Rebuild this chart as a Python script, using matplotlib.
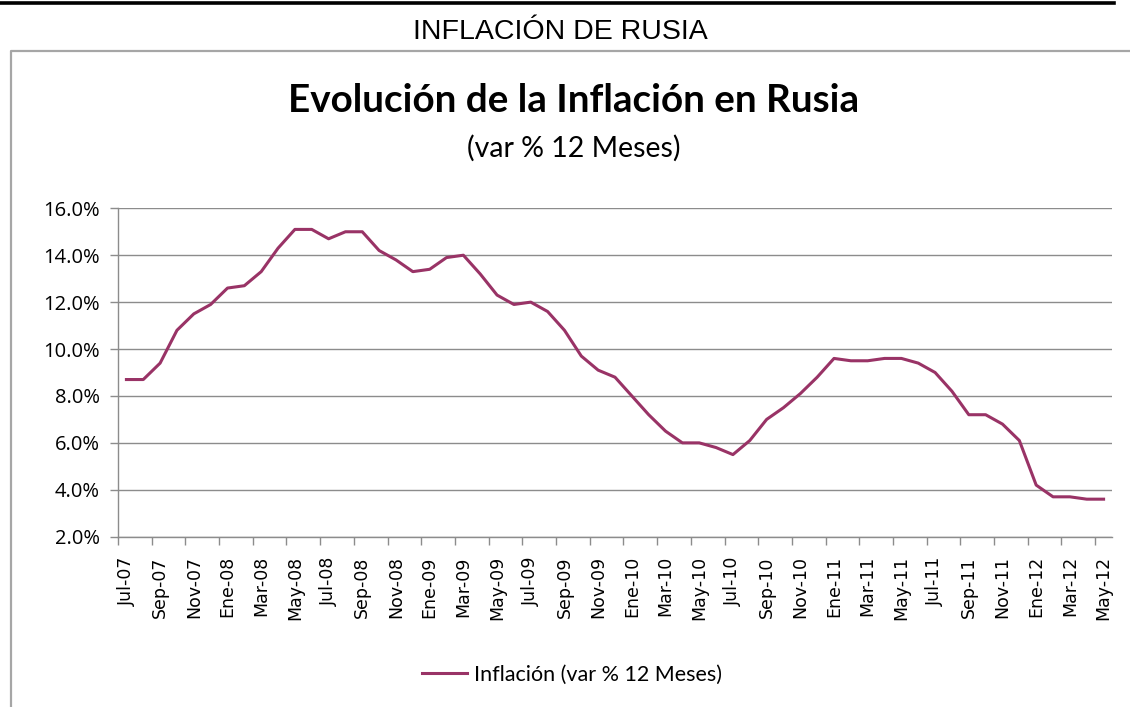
import numpy as np
import matplotlib
matplotlib.use('Agg')
import matplotlib.pyplot as plt
from matplotlib.lines import Line2D

# monthly 12-month CPI change, Jul-07 .. May-12
MONTHS = ['Jul-07', 'Ago-07', 'Sep-07', 'Oct-07', 'Nov-07', 'Dic-07',
          'Ene-08', 'Feb-08', 'Mar-08', 'Abr-08', 'May-08', 'Jun-08',
          'Jul-08', 'Ago-08', 'Sep-08', 'Oct-08', 'Nov-08', 'Dic-08',
          'Ene-09', 'Feb-09', 'Mar-09', 'Abr-09', 'May-09', 'Jun-09',
          'Jul-09', 'Ago-09', 'Sep-09', 'Oct-09', 'Nov-09', 'Dic-09',
          'Ene-10', 'Feb-10', 'Mar-10', 'Abr-10', 'May-10', 'Jun-10',
          'Jul-10', 'Ago-10', 'Sep-10', 'Oct-10', 'Nov-10', 'Dic-10',
          'Ene-11', 'Feb-11', 'Mar-11', 'Abr-11', 'May-11', 'Jun-11',
          'Jul-11', 'Ago-11', 'Sep-11', 'Oct-11', 'Nov-11', 'Dic-11',
          'Ene-12', 'Feb-12', 'Mar-12', 'Abr-12', 'May-12']
INFLATION = [8.7, 8.7, 9.4, 10.8, 11.5, 11.9,
             12.6, 12.7, 13.3, 14.3, 15.1, 15.1,
             14.7, 15.0, 15.0, 14.2, 13.8, 13.3,
             13.4, 13.9, 14.0, 13.2, 12.3, 11.9,
             12.0, 11.6, 10.8, 9.7, 9.1, 8.8,
             8.0, 7.2, 6.5, 6.0, 6.0, 5.8,
             5.5, 6.1, 7.0, 7.5, 8.1, 8.8,
             9.6, 9.5, 9.5, 9.6, 9.6, 9.4,
             9.0, 8.2, 7.2, 7.2, 6.8, 6.1,
             4.2, 3.7, 3.7, 3.6, 3.6]
Y_TICKS = [2, 4, 6, 8, 10, 12, 14, 16]

LINE_COLOR = '#993366'
GRID_COLOR = '#8c8c8c'
FONT = ['Lato', 'DejaVu Sans']

W, H = 1130, 707
fig = plt.figure(figsize=(W / 100, H / 100), dpi=100)

# frame around the chart object and black rule at top
fig.add_artist(Line2D([0, 1114 / W], [1 - 2.5 / H] * 2, color='black', lw=2.6, transform=fig.transFigure))
fig.add_artist(Line2D([10.5 / W, 10.5 / W, 1], [0, 1 - 51 / H, 1 - 51 / H], color='#a6a6a6', lw=1.6,
                      transform=fig.transFigure))

fig.text(560 / W, 1 - 32 / H, 'INFLACIÓN DE RUSIA', ha='center', va='center', fontsize=20.5,
         family=['Liberation Sans', 'DejaVu Sans'])
fig.text(574 / W, 1 - 101 / H, 'Evolución de la Inflación en Rusia', ha='center', va='center',
         fontsize=27.8, fontweight='bold', family=FONT)
fig.text(574 / W, 1 - 148 / H, '(var % 12 Meses)', ha='center', va='center', fontsize=20.5, family=FONT)

ax = fig.add_axes([118 / W, 1 - 536.7 / H, (1112 - 118) / W, (536.7 - 208.3) / H])
x = np.arange(len(MONTHS))
line, = ax.plot(x, INFLATION, color=LINE_COLOR, lw=2.2, solid_joinstyle='round')

ax.set_xlim(-0.5, len(MONTHS) - 0.5)
ax.set_ylim(2, 16)
ax.set_yticks(Y_TICKS)
ax.set_yticklabels([f'{v:.1f}%' for v in Y_TICKS], fontsize=14.5, family=['Open Sans', 'DejaVu Sans'])
ax.yaxis.grid(True, color=GRID_COLOR, lw=1.0)
ax.set_axisbelow(True)

# tick marks between categories, labels every second month
ax.set_xticks(np.arange(-0.5, len(MONTHS) - 1, 2))
ax.set_xticklabels([])
ax.set_xticks(x[::2], minor=True)
ax.set_xticklabels(MONTHS[::2], minor=True, rotation=90, fontsize=12.5, family='DejaVu Sans')
ax.tick_params(axis='x', which='minor', length=0, pad=14)
ax.tick_params(axis='x', which='major', length=6, color=GRID_COLOR, width=1)
ax.tick_params(axis='y', length=6, color=GRID_COLOR, width=1, pad=7)

for side in ['top', 'right']:
    ax.spines[side].set_visible(False)
for side in ['left', 'bottom']:
    ax.spines[side].set_color(GRID_COLOR)
    ax.spines[side].set_linewidth(1.0)

fig.legend([line], ['Inflación (var % 12 Meses)'], loc='center', bbox_to_anchor=(572 / W, 1 - 675 / H),
           frameon=False, prop={'family': FONT, 'size': 15.5}, handlelength=2.1, handletextpad=0.3)

fig.savefig('out.png', dpi=100)
